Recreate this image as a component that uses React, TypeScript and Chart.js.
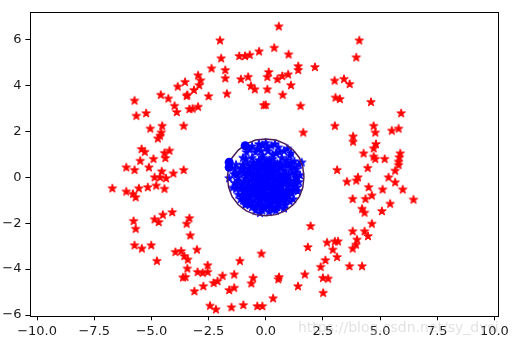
import { useEffect, useRef } from "react";
import { Chart, registerables } from "chart.js";

Chart.register(...registerables);

const xTicks = [-10, -7.5, -5, -2.5, 0, 2.5, 5, 7.5, 10];
const yTicks = [-6, -4, -2, 0, 2, 4, 6];
const xRange = [-10.31, 10.16];
const yRange = [-6.03, 7.2];

// outer ring (red stars)
const redPoints: number[][] = [
  [-2.0, 5.96], [-0.29, 5.48], [-1.16, 5.28], [-0.91, 5.28], [-0.7, 5.33], [-1.95, 5.18],
  [-2.37, 4.74], [-1.77, 4.67], [-2.96, 4.44], [-1.77, 4.31], [-1.09, 4.27], [-0.77, 4.37],
  [-2.85, 4.22], [-3.53, 4.15], [-3.85, 3.95], [-2.91, 4.01], [-0.65, 3.98], [-0.48, 3.83],
  [-3.14, 3.8], [-3.43, 3.59], [-3.46, 3.54], [-1.7, 3.64], [-4.59, 3.59], [-2.5, 3.53],
  [-4.26, 3.43], [-5.74, 3.34], [-0.09, 3.14], [-3.99, 3.11], [-3.34, 2.97], [-3.2, 2.99],
  [-2.96, 3.07], [-3.89, 2.84], [-5.23, 2.79], [-5.66, 2.68],
  [0.57, 6.57], [4.09, 5.96], [0.37, 5.64], [1.0, 5.35], [3.96, 5.22], [1.42, 4.84],
  [1.42, 4.67], [2.15, 4.8], [0.13, 4.58], [0.07, 4.37], [0.51, 4.27], [0.72, 4.41],
  [0.98, 4.48], [3.01, 4.21], [3.42, 4.28], [3.67, 4.06], [1.1, 4.01], [0.07, 3.83],
  [0.74, 3.59], [3.05, 3.47], [3.24, 3.41], [4.6, 3.28], [0.0, 3.15], [1.52, 3.11],
  [5.92, 2.79],
  [-5.05, 2.12], [-4.53, 2.24], [-4.57, 1.95], [-4.72, 1.69], [-4.62, 1.81], [-3.59, 2.24],
  [-5.43, 1.23], [-5.29, 1.11], [-4.43, 1.06], [-4.21, 1.16], [-4.39, 0.84], [-5.49, 0.72],
  [-4.91, 0.8], [-6.1, 0.43], [-5.74, 0.32], [-5.11, 0.43], [-4.55, 0.26], [-3.59, 0.32],
  [-4.04, 0.17], [-4.86, 0.0], [-4.62, 0.0], [-4.36, -0.04], [-6.71, -0.48], [-6.1, -0.62],
  [-5.81, -0.72], [-5.69, -0.87], [-5.55, -0.48], [-5.16, -0.43], [-4.79, -0.36], [-4.43, -0.5],
  [-4.5, -1.63], [-4.09, -1.52], [-3.34, -1.78], [-4.86, -1.83], [-5.78, -1.9], [-5.69, -2.24],
  [-4.68, -1.95], [-3.46, -2.02], [-3.3, -2.53], [-5.74, -2.96], [-5.42, -3.1], [-5.01, -2.96],
  [-4.76, -3.64], [-3.95, -3.25], [-3.7, -3.21], [-3.56, -3.43], [-3.41, -3.58], [-3.01, -3.15],
  [-3.43, -3.97], [-3.51, -4.34], [-3.62, -4.36], [-2.98, -4.12], [-2.76, -4.16], [-2.54, -4.12],
  [-2.54, -3.83], [-2.73, -4.74], [-3.12, -4.96], [-2.28, -4.6], [-2.11, -4.52], [-1.89, -4.29],
  [-1.38, -4.23], [-1.6, -4.91], [-1.38, -4.81], [-1.13, -3.64], [-0.55, -4.38], [-0.63, -4.62],
  [-0.19, -3.32], [-2.44, -5.59], [-2.18, -5.75], [-1.5, -5.66], [-0.98, -5.56], [-0.37, -5.61],
  [-0.15, -5.61],
  [1.64, 1.95], [3.02, 2.24], [4.72, 2.24], [4.79, 1.95], [5.51, 2.03], [5.81, 2.12],
  [3.82, 1.78], [3.82, 1.55], [4.82, 1.45], [4.72, 1.26], [4.28, 1.04], [4.72, 0.9],
  [4.79, 0.8], [5.2, 0.8], [5.88, 1.04], [5.84, 0.87], [5.81, 0.68], [4.46, 0.41],
  [5.81, 0.54], [5.66, 0.29], [3.12, 0.32], [4.03, 0.0], [3.96, -0.14], [3.55, -0.19],
  [5.37, 0.0], [5.66, -0.22], [4.5, -0.43], [4.64, -0.79], [5.11, -0.53], [5.99, -0.53],
  [6.46, -0.97], [3.8, -0.94], [4.36, -0.94], [5.44, -1.15], [4.21, -1.37], [4.32, -1.54],
  [5.08, -1.47],
  [1.96, -2.12], [4.64, -2.02], [3.8, -2.35], [4.32, -2.35], [4.47, -2.56], [3.99, -2.71],
  [3.95, -2.93], [3.8, -3.1], [1.84, -3.04], [2.68, -2.84], [3.02, -2.79], [3.16, -2.79],
  [2.93, -3.15], [3.12, -3.47], [2.61, -3.61], [2.4, -3.9], [3.66, -3.87], [4.21, -3.87],
  [1.71, -4.23], [0.58, -4.34], [0.55, -4.44], [2.5, -4.38], [2.73, -4.41], [1.41, -4.74],
  [2.51, -5.03], [0.32, -5.27],
];

// inner cluster (blue stars)
const bluePoints: number[][] = [
  [-0.6, 1.35], [-0.3, 1.45], [0.0, 1.5], [0.25, 1.38], [0.55, 1.3], [0.8, 1.15],
  [-0.85, 1.1], [-0.45, 1.1], [0.1, 1.15], [0.45, 1.05], [1.05, 0.95], [-0.15, 0.95],
  [0.7, 0.85], [-1.0, 0.85], [0.3, 0.8], [-0.6, 0.85], [1.25, 0.7], [-0.35, 1.25],
  [0.05, 1.3], [0.95, 1.25], [-0.87, 0.8], [1.57, 0.65],
  [-1.3, 0.55], [-1.1, 0.4], [-0.8, 0.6], [-0.5, 0.5], [-0.2, 0.65], [0.1, 0.55],
  [0.4, 0.6], [0.7, 0.45], [1.0, 0.55], [1.35, 0.35], [-0.65, 0.3], [-0.3, 0.35],
  [0.0, 0.3], [0.25, 0.4], [0.55, 0.25], [0.85, 0.3], [1.15, 0.2], [-0.95, 0.2], [-1.4, 0.15],
  [-1.2, 0.0], [-0.9, -0.05], [-0.6, 0.05], [-0.35, 0.1], [-0.1, 0.0], [0.15, 0.1],
  [0.4, 0.0], [0.65, 0.05], [0.95, -0.05], [1.3, 0.0], [-0.75, -0.2], [-0.45, -0.15],
  [-0.2, -0.25], [0.05, -0.15], [0.3, -0.25], [0.55, -0.2], [0.8, -0.25], [1.1, -0.3],
  [-1.05, -0.3], [1.45, -0.2], [-1.6, -0.04], [1.3, -0.29], [1.38, -0.43],
  [-1.3, -0.5], [-1.0, -0.6], [-0.7, -0.5], [-0.4, -0.45], [-0.15, -0.55], [0.1, -0.45],
  [0.35, -0.55], [0.6, -0.5], [0.9, -0.6], [1.2, -0.55], [-0.85, -0.75], [-0.55, -0.75],
  [-0.25, -0.8], [0.0, -0.7], [0.25, -0.75], [0.5, -0.8], [0.75, -0.75], [1.0, -0.8],
  [-1.1, -0.95], [-0.8, -1.05], [-0.5, -1.0], [-0.2, -1.05], [0.1, -0.95], [0.4, -1.05],
  [0.7, -1.0], [1.05, -1.05], [-0.6, -1.3], [-0.3, -1.25], [0.0, -1.2], [0.3, -1.3],
  [0.6, -1.25], [0.85, -1.2], [-0.9, -1.2], [-0.15, -1.45], [0.15, -1.5], [0.45, -1.45],
  [-0.45, -1.45], [-0.87, -1.15], [0.8, -1.0],
  [-0.4, 0.2], [0.2, -0.05], [-0.05, 0.45], [0.45, 0.3], [-0.25, -0.4], [0.35, -0.4],
  [0.7, -0.4], [-0.6, -0.35], [0.0, 0.15], [0.5, 0.6], [-0.1, -0.6], [0.15, 0.75],
  [-0.15, 0.2], [0.25, 0.2], [-0.5, -0.6], [0.6, -0.65], [-0.3, 0.75], [0.05, -0.35],
  [-0.7, 0.15], [0.85, -0.1], [-0.2, -0.1], [0.4, -0.7], [-0.8, -0.35], [1.0, 0.1],
  [-0.55, 0.65], [-0.1, 0.85], [0.3, 1.0], [0.6, 1.1], [-0.2, 1.15], [0.2, 0.6],
  [-0.45, 0.4], [-0.05, 0.6], [0.35, 0.45], [0.65, 0.65], [0.9, 0.75], [1.1, 0.4],
  [-1.0, 0.55], [-0.75, 0.4], [-0.25, 0.5], [0.15, 0.35], [0.75, 0.15], [1.25, 0.45],
  [-1.15, 0.2], [-0.85, 0.05], [-0.5, -0.05], [-0.25, 0.05], [0.1, -0.1], [0.3, 0.1],
  [0.55, -0.05], [0.75, -0.1], [1.05, -0.15], [1.25, -0.15], [-1.35, -0.25], [-0.95, -0.45],
  [-0.65, -0.6], [-0.35, -0.65], [-0.1, -0.35], [0.2, -0.6], [0.5, -0.35], [0.95, -0.4],
  [1.15, -0.7], [-1.2, -0.75], [-0.7, -0.9], [-0.4, -0.85], [-0.05, -0.85], [0.3, -0.9],
  [0.6, -0.9], [0.9, -0.9], [-1.0, -1.0], [-0.35, -1.1], [0.2, -1.15], [0.5, -1.15],
  [0.8, -1.35], [-0.7, -1.2], [-0.05, -1.35], [0.35, -1.4], [-0.25, -1.55], [0.1, -1.25],
  [1.2, -0.95], [1.4, -0.6], [1.45, 0.55], [1.5, 0.1], [-1.45, -0.45], [-1.35, 0.35],
  [-0.15, 1.4], [0.4, 1.45], [-0.7, 1.2], [1.1, 1.05],
  [-0.95, 0.35], [-0.6, 0.5], [-0.4, 0.6], [-0.15, 0.4], [0.05, 0.7], [0.35, 0.25],
  [0.6, 0.45], [0.85, 0.55], [1.1, 0.65], [-1.2, -0.15], [-0.95, -0.2], [-0.65, -0.1],
  [-0.45, -0.3], [-0.3, -0.2], [-0.05, -0.2], [0.15, -0.3], [0.45, -0.15], [0.65, -0.25],
  [0.9, -0.2], [1.2, -0.4], [-1.1, -0.5], [-0.85, -0.55], [-0.55, -0.45], [-0.3, -0.55],
  [-0.05, -0.45], [0.25, -0.5], [0.5, -0.6], [0.75, -0.55], [1.05, -0.55], [-1.0, -0.8],
  [-0.7, -0.75], [-0.4, -0.7], [-0.15, -0.75], [0.1, -0.8], [0.4, -0.85], [0.65, -0.8],
  [0.9, -0.75], [-0.85, -0.95], [-0.6, -1.1], [-0.25, -0.95], [0.0, -1.0], [0.25, -1.05],
  [0.55, -1.05], [0.85, -1.05], [-0.45, -1.25], [-0.15, -1.25], [0.2, -1.35], [0.5, -1.3],
  [-0.3, -0.05], [0.0, -0.05], [0.35, -0.1], [-0.5, 0.15], [0.2, 0.45], [0.55, 0.05],
  [0.9, 0.1], [-0.8, 0.2], [1.3, 0.2], [1.35, -0.05], [-1.3, 0.1], [-1.25, -0.35],
];

// decision boundary contour
const contourPoints: number[][] = [
  [1.67, 0.0], [1.62, 0.45], [1.47, 0.85], [1.2, 1.18], [0.85, 1.45], [0.45, 1.62],
  [0.0, 1.66], [-0.45, 1.62], [-0.85, 1.45], [-1.2, 1.18], [-1.47, 0.85], [-1.62, 0.45],
  [-1.68, 0.0], [-1.62, -0.45], [-1.47, -0.85], [-1.2, -1.2], [-0.85, -1.47], [-0.45, -1.63],
  [0.0, -1.68], [0.45, -1.63], [0.85, -1.47], [1.2, -1.2], [1.47, -0.85], [1.62, -0.45],
  [1.67, 0.0],
];

// highlighted points (blue circles)
const circlePoints: number[][] = [[-0.9, 1.37], [-1.6, 0.65], [-1.6, 0.43]];

const watermark = "https://blog.csdn.net/sy_dysi";

function makeStar(color: string): HTMLCanvasElement {
  const c = document.createElement("canvas");
  const size = 12;
  c.width = size;
  c.height = size;
  const ctx = c.getContext("2d")!;
  const cx = size / 2;
  const cy = size / 2 + 0.3;
  const R = 4.5;
  const r = R * 0.382;
  ctx.beginPath();
  for (let i = 0; i < 10; i++) {
    const a = -Math.PI / 2 + (i * Math.PI) / 5;
    const rad = i % 2 === 0 ? R : r;
    const px = cx + rad * Math.cos(a);
    const py = cy + rad * Math.sin(a);
    if (i === 0) ctx.moveTo(px, py);
    else ctx.lineTo(px, py);
  }
  ctx.closePath();
  ctx.fillStyle = color;
  ctx.fill();
  ctx.strokeStyle = color;
  ctx.lineWidth = 1;
  ctx.lineJoin = "miter";
  ctx.stroke();
  return c;
}

const fmtMinus = (s: string) => s.replace("-", "\u2212");

export default function App() {
  const ref = useRef<HTMLCanvasElement | null>(null);

  useEffect(() => {
    if (!ref.current) return;
    const redStar = makeStar("#ff0000");
    const blueStar = makeStar("#0000ff");

    const framePlugin = {
      id: "frame",
      afterDatasetsDraw(chart: any) {
        const { ctx, chartArea } = chart;
        ctx.save();
        ctx.strokeStyle = "#000";
        ctx.lineWidth = 1;
        ctx.strokeRect(
          Math.round(chartArea.left) + 0.5,
          Math.round(chartArea.top) + 0.5,
          Math.round(chartArea.right - chartArea.left),
          Math.round(chartArea.bottom - chartArea.top)
        );
        ctx.restore();
      },
      afterDraw(chart: any) {
        const { ctx } = chart;
        ctx.save();
        ctx.font = "14px 'DejaVu Sans'";
        ctx.fillStyle = "rgba(190,190,190,0.45)";
        ctx.textBaseline = "middle";
        ctx.textAlign = "left";
        ctx.fillText(watermark, 298, 328);
        ctx.restore();
      },
    };

    const tickFont = { family: "'DejaVu Sans', sans-serif", size: 13 };

    const chart = new Chart(ref.current, {
      type: "scatter",
      data: {
        datasets: [
          {
            label: "sv",
            data: circlePoints.map(([x, y]) => ({ x, y })),
            pointStyle: "circle",
            pointRadius: 4.5,
            backgroundColor: "#0000ff",
            borderColor: "#0000ff",
            borderWidth: 0,
          },
          {
            label: "contour",
            data: contourPoints.map(([x, y]) => ({ x, y })),
            showLine: true,
            pointRadius: 0,
            borderColor: "#4b1f5c",
            borderWidth: 1.5,
            backgroundColor: "transparent",
            tension: 0,
          },
          {
            label: "inner",
            data: bluePoints.map(([x, y]) => ({ x, y })),
            pointStyle: blueStar as any,
            pointRadius: 4,
          },
          {
            label: "outer",
            data: redPoints.map(([x, y]) => ({ x, y })),
            pointStyle: redStar as any,
            pointRadius: 4,
          },
        ],
      },
      options: {
        animation: false,
        responsive: true,
        maintainAspectRatio: false,
        events: [],
        layout: { padding: { top: 10.5, right: 13.5, left: 0, bottom: 0 } },
        plugins: { legend: { display: false }, tooltip: { enabled: false } },
        scales: {
          x: {
            type: "linear",
            min: xRange[0],
            max: xRange[1],
            afterBuildTicks: (scale: any) => {
              scale.ticks = xTicks.map((v) => ({ value: v }));
            },
            afterFit: (scale: any) => {
              scale.height = 28.3;
            },
            ticks: {
              autoSkip: false,
              maxRotation: 0,
              padding: 4,
              color: "#1a1a1a",
              font: tickFont,
              callback: (v: any) => fmtMinus(Number(v).toFixed(1)),
            },
            grid: {
              display: true,
              drawOnChartArea: false,
              drawTicks: true,
              tickLength: 4.6,
              tickColor: "#000",
              tickWidth: 1,
            },
            border: { display: false },
          },
          y: {
            type: "linear",
            min: yRange[0],
            max: yRange[1],
            afterBuildTicks: (scale: any) => {
              scale.ticks = yTicks.map((v) => ({ value: v }));
            },
            afterFit: (scale: any) => {
              scale.width = 30;
            },
            ticks: {
              autoSkip: false,
              padding: 4,
              color: "#1a1a1a",
              font: tickFont,
              callback: (v: any) => fmtMinus(String(Math.round(Number(v)))),
            },
            grid: {
              display: true,
              drawOnChartArea: false,
              drawTicks: true,
              tickLength: 4.6,
              tickColor: "#000",
              tickWidth: 1,
            },
            border: { display: false },
          },
        },
      },
      plugins: [framePlugin],
    } as any);

    return () => chart.destroy();
  }, []);

  return (
    <div
      style={{
        position: "absolute",
        left: 0,
        top: 0,
        width: 513,
        height: 344,
        background: "#fff",
      }}
    >
      <canvas ref={ref} />
    </div>
  );
}
